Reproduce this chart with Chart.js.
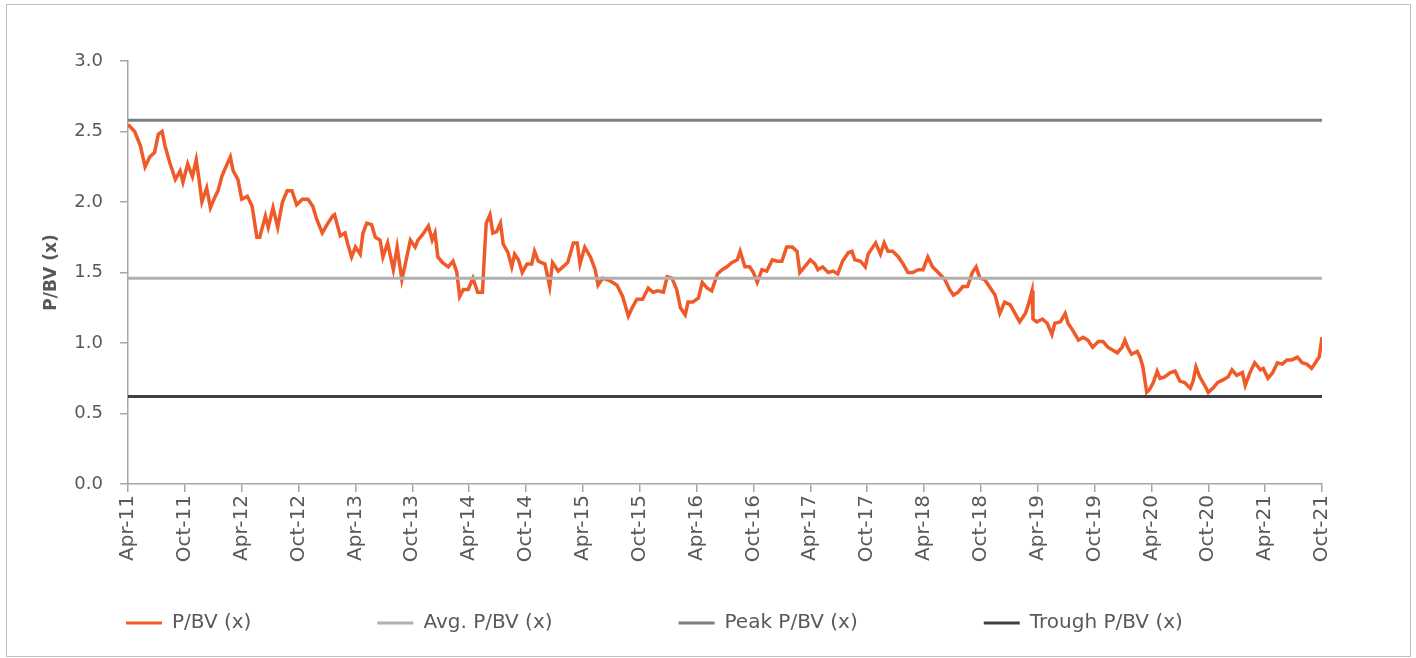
<!DOCTYPE html>
<html>
<head>
<meta charset="utf-8">
<script src="https://cdn.jsdelivr.net/npm/chart.js@4.4.1/dist/chart.umd.min.js"></script>
<style>
  html, body { margin: 0; padding: 0; background: #fff; }
  #wrap { position: relative; width: 1416px; height: 658px; }
  #frame { position: absolute; left: 6px; top: 4px; width: 1403px; height: 651px; border: 1px solid #bfbfbf; pointer-events: none; }
  canvas { position: absolute; left: 0; top: 0; }
</style>
</head>
<body>
<div id="wrap">
  <canvas id="pbvChart" width="1416" height="658"></canvas>
  <div id="frame"></div>
</div>
<script>
// months since Apr-11 and P/BV (x)
const months = [
  0.0, 0.7, 1.3, 1.8, 2.3, 2.8, 3.2, 3.6, 3.9, 4.4, 5.0, 5.5, 5.8, 6.3, 6.8, 7.2, 7.5, 7.8, 8.3, 8.7,
  9.2, 9.5, 9.9, 10.2, 10.8, 11.1, 11.6, 12.0, 12.6, 13.1, 13.6, 13.9, 14.5, 14.8, 15.3, 15.8, 16.3, 16.8, 17.3, 17.8,
  18.4, 19.0, 19.5, 19.9, 20.5, 21.0, 21.6,
  21.8, 22.4, 22.9, 23.2, 23.6, 24.0, 24.5, 24.8, 25.2, 25.7, 26.1, 26.6, 26.9, 27.4, 28.0, 28.4, 28.9, 29.2, 29.8, 30.3,
  30.6, 31.1, 31.7, 32.1, 32.4, 32.7, 33.2, 33.8, 34.3, 34.7, 35.0, 35.4, 35.9, 36.4, 36.9, 37.4, 37.6, 37.8, 38.2, 38.5,
  38.9, 39.3, 39.6, 40.1, 40.5, 40.8, 41.2, 41.6, 42.1, 42.6, 42.9, 43.3,
  44.0, 44.5, 44.8, 45.4, 45.9, 46.4, 47.0, 47.4, 47.7, 48.2, 48.8, 49.3, 49.6, 50.1, 50.9, 51.6, 52.2, 52.8, 53.2, 53.7,
  54.3, 54.9, 55.4, 55.9, 56.5, 56.9, 57.4, 57.9, 58.3, 58.8, 59.1, 59.6, 60.2, 60.6, 61.1, 61.6, 62.2, 62.7, 63.2, 63.7, 64.3,
  64.6, 65.1, 65.6, 66.0, 66.4, 66.9, 67.4, 68.0, 68.5, 69.0, 69.5, 70.1, 70.6, 70.9, 71.4, 72.0, 72.5, 72.8, 73.3, 73.9,
  74.4, 74.9, 75.4, 76.0, 76.4, 76.7, 77.3, 77.8, 78.1, 78.6, 78.9, 79.4, 79.8, 80.2, 80.7, 81.3, 81.8, 82.3, 82.8, 83.4,
  83.9, 84.4, 84.9, 85.5,
  86.2, 86.7, 87.1, 87.6, 88.1, 88.6, 89.1, 89.5, 89.9, 90.4, 91.0, 91.5, 92.0, 92.5, 93.1, 93.6, 94.1, 94.7, 95.0, 95.4,
  95.5, 95.9, 96.5, 97.0, 97.5, 97.8, 98.4, 98.9, 99.2, 99.7, 100.3, 100.8, 101.3, 101.8, 102.4, 102.9, 103.4, 103.9, 104.4,
  104.9, 105.2, 105.5, 105.9, 106.5, 106.8, 107.1, 107.5, 107.8, 108.2, 108.6, 108.9, 109.4, 110.0, 110.5, 111.0, 111.5, 112.1, 112.4, 112.7,
  113.1, 113.7, 114.0, 114.5, 115.0, 115.6, 116.1, 116.5, 117.0, 117.6, 117.9, 118.4, 118.9, 119.5, 119.8, 120.3, 120.8, 121.3, 121.8, 122.3,
  122.8, 123.4, 123.9, 124.4, 124.9, 125.3, 125.7, 126.0
];
const pbv = [
  2.55, 2.50, 2.40, 2.25, 2.32, 2.35, 2.48, 2.50, 2.40, 2.28, 2.16, 2.22, 2.14, 2.27, 2.18, 2.30, 2.16, 2.00, 2.10, 1.96,
  2.04, 2.08, 2.18, 2.23, 2.32, 2.22, 2.16, 2.02, 2.04, 1.97, 1.75, 1.75, 1.90, 1.82, 1.96, 1.82, 2.00, 2.08, 2.08, 1.98,
  2.02, 2.02, 1.97, 1.88, 1.78, 1.84, 1.90,
  1.91, 1.76, 1.78, 1.70, 1.61, 1.68, 1.63, 1.78, 1.85, 1.84, 1.75, 1.73, 1.61, 1.71, 1.52, 1.68, 1.45, 1.54, 1.73, 1.68,
  1.73, 1.77, 1.83, 1.73, 1.78, 1.61, 1.57, 1.54, 1.58, 1.50, 1.33, 1.38, 1.38, 1.46, 1.36, 1.36, 1.61, 1.85, 1.91, 1.78,
  1.79, 1.85, 1.70, 1.64, 1.54, 1.63, 1.59, 1.50, 1.56, 1.56, 1.65, 1.58,
  1.56, 1.40, 1.57, 1.51, 1.54, 1.57, 1.71, 1.71, 1.56, 1.68, 1.61, 1.52, 1.41, 1.46, 1.44, 1.41, 1.33, 1.19, 1.25, 1.31,
  1.31, 1.39, 1.36, 1.37, 1.36, 1.47, 1.46, 1.38, 1.25, 1.20, 1.29, 1.29, 1.32, 1.43, 1.39, 1.37, 1.49, 1.52, 1.54, 1.57, 1.59,
  1.65, 1.54, 1.54, 1.50, 1.43, 1.52, 1.51, 1.59, 1.58, 1.58, 1.68, 1.68, 1.65, 1.50, 1.54, 1.59, 1.56, 1.52, 1.54, 1.50,
  1.51, 1.49, 1.58, 1.64, 1.65, 1.59, 1.58, 1.54, 1.63, 1.68, 1.71, 1.63, 1.71, 1.65, 1.65, 1.61, 1.56, 1.50, 1.50, 1.52,
  1.52, 1.61, 1.54, 1.50,
  1.45, 1.38, 1.34, 1.36, 1.40, 1.40, 1.50, 1.54, 1.46, 1.45, 1.39, 1.34, 1.21, 1.29, 1.27, 1.21, 1.15, 1.21, 1.27, 1.37,
  1.17, 1.15, 1.17, 1.14, 1.06, 1.14, 1.15, 1.21, 1.14, 1.09, 1.02, 1.04, 1.02, 0.97, 1.01, 1.01, 0.97, 0.95, 0.93,
  0.97, 1.02, 0.97, 0.92, 0.94, 0.90, 0.83, 0.65, 0.67, 0.72, 0.80, 0.75, 0.76, 0.79, 0.80, 0.73, 0.72, 0.68, 0.73, 0.83,
  0.76, 0.69, 0.65, 0.68, 0.72, 0.74, 0.76, 0.81, 0.77, 0.79, 0.70, 0.79, 0.86, 0.81, 0.82, 0.75, 0.79, 0.86, 0.85, 0.88,
  0.88, 0.90, 0.86, 0.85, 0.82, 0.86, 0.90, 1.04
];

const avgPbv = 1.46;
const peakPbv = 2.58;
const troughPbv = 0.62;

const tickLabels = [
  'Apr-11', 'Oct-11', 'Apr-12', 'Oct-12', 'Apr-13', 'Oct-13', 'Apr-14', 'Oct-14', 'Apr-15', 'Oct-15', 'Apr-16',
  'Oct-16', 'Apr-17', 'Oct-17', 'Apr-18', 'Oct-18', 'Apr-19', 'Oct-19', 'Apr-20', 'Oct-20', 'Apr-21', 'Oct-21'
];
const lastMonth = 126;

const textColor = '#595959';
const axisColor = '#a6a6a6';

Chart.defaults.font.family = "'DejaVu Sans', sans-serif";
Chart.defaults.color = textColor;

function flatLine(value) {
  return [{ x: 0, y: value }, { x: lastMonth, y: value }];
}

// legend needs wide gaps between items, so its box is moved up under the axis labels
const legendRow = {
  id: 'legendRow',
  afterLayout(chart) {
    const legend = chart.legend;
    legend.top = 487;
    legend.bottom = chart.height;
    legend.height = legend.bottom - legend.top;
  }
};

const ctx = document.getElementById('pbvChart');

new Chart(ctx, {
  type: 'line',
  data: {
    datasets: [
      {
        label: 'P/BV (x)',
        data: months.map((m, i) => ({ x: m, y: pbv[i] })),
        borderColor: '#f05a28',
        backgroundColor: '#f05a28',
        borderWidth: 3.5,
        order: 4
      },
      {
        label: 'Avg. P/BV (x)',
        data: flatLine(avgPbv),
        borderColor: '#b0b0b0',
        backgroundColor: '#b0b0b0',
        borderWidth: 3,
        order: 1
      },
      {
        label: 'Peak P/BV (x)',
        data: flatLine(peakPbv),
        borderColor: '#7f7f7f',
        backgroundColor: '#7f7f7f',
        borderWidth: 3,
        order: 2
      },
      {
        label: 'Trough P/BV (x)',
        data: flatLine(troughPbv),
        borderColor: '#404040',
        backgroundColor: '#404040',
        borderWidth: 3,
        order: 3
      }
    ]
  },
  options: {
    responsive: false,
    animation: false,
    events: [],
    layout: { padding: { left: 0, right: 94, top: 61, bottom: 34 } },
    elements: {
      point: { radius: 0 },
      line: { tension: 0, fill: false }
    },
    scales: {
      x: {
        type: 'linear',
        min: 0,
        max: lastMonth,
        afterFit: scale => { scale.height = 100; },
        afterBuildTicks: scale => {
          scale.ticks = tickLabels.map((t, i) => ({ value: i * 6 }));
        },
        ticks: {
          autoSkip: false,
          minRotation: 90,
          maxRotation: 90,
          padding: 3,
          font: { size: 20 },
          color: textColor,
          callback: (v) => tickLabels[Math.round(v / 6)]
        },
        grid: { display: true, drawOnChartArea: false, drawTicks: true, tickLength: 8, color: axisColor, lineWidth: 1.5 },
        border: { display: true, color: axisColor, width: 1.5 }
      },
      y: {
        min: 0,
        max: 3,
        afterFit: scale => { scale.width = 128; },
        ticks: {
          stepSize: 0.5,
          padding: 17,
          font: { size: 18 },
          color: textColor,
          callback: v => v.toFixed(1)
        },
        title: {
          display: true,
          text: 'P/BV (x)',
          color: textColor,
          font: { size: 17, weight: 'bold' },
          padding: { top: 41, bottom: 0 }
        },
        grid: { display: true, drawOnChartArea: false, drawTicks: true, tickLength: 8, color: axisColor, lineWidth: 1.5 },
        border: { display: true, color: axisColor, width: 1.5 }
      }
    },
    plugins: {
      tooltip: { enabled: false },
      legend: {
        position: 'bottom',
        align: 'start',
        maxHeight: 40,
        labels: {
          boxWidth: 36,
          boxHeight: 3,
          padding: 126,
          color: textColor,
          font: { size: 20 },
          sort: (a, b) => a.datasetIndex - b.datasetIndex,
          generateLabels: chart => Chart.defaults.plugins.legend.labels.generateLabels(chart)
            .map(item => ({ ...item, lineWidth: 0 }))
        }
      }
    }
  },
  plugins: [legendRow]
});
</script>
</body>
</html>
